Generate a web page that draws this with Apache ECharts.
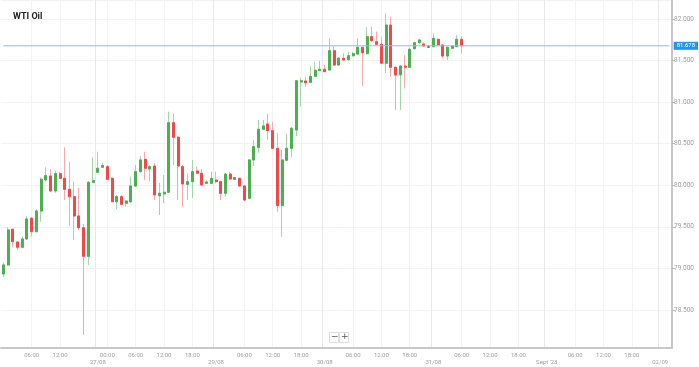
<!DOCTYPE html>
<html lang="en">
<head>
<meta charset="UTF-8">
<title>WTI Oil</title>
<style>
  html, body { margin: 0; padding: 0; background: #fff; }
  #chart { width: 699px; height: 367px; }
</style>
</head>
<body>
<div id="chart"></div>
<script src="https://cdn.jsdelivr.net/npm/echarts@6/dist/echarts.min.js"></script>
<script>
// trading hours shown on the axis: [date, first hour, last hour]
var sessions = [
  ['25/08', 0, 19], ['27/08', 22, 23],
  ['28/08', 0, 20], ['28/08', 22, 23],
  ['29/08', 0, 20], ['29/08', 22, 23],
  ['30/08', 0, 20], ['30/08', 22, 23],
  ['31/08', 0, 23], ['01/09', 0, 23], ['02/09', 0, 2]
];

// hourly candles, from 25/08 00:00 to 31/08 06:00
var openVals = [
  78.933, 79.042, 79.471, 79.318, 79.255, 79.354, 79.603, 79.442, 79.691, 80.064,
  80.112, 79.932, 80.140, 80.084, 79.952, 79.863, 79.631, 79.490, 79.146, 80.036,
  80.157, 80.217, 80.224, 80.084, 79.803, 79.863, 79.784, 79.803, 79.992, 80.164,
  80.313, 80.196, 80.232, 79.875, 79.896, 79.916, 80.753, 80.578, 80.224, 80.012,
  80.044, 80.172, 80.145, 80.024, 80.024, 80.064, 80.044, 79.904, 80.136, 80.072,
  80.084, 79.992, 79.844, 80.305, 80.457, 80.674, 80.738, 80.657, 80.445, 79.755,
  80.301, 80.445, 80.665, 81.243, 81.255, 81.239, 81.311, 81.379, 81.395, 81.387,
  81.619, 81.447, 81.528, 81.511, 81.559, 81.579, 81.660, 81.583, 81.788, 81.727,
  81.696, 81.468, 81.928, 81.420, 81.327, 81.435, 81.420, 81.643, 81.715, 81.700,
  81.664, 81.667, 81.756, 81.688, 81.555, 81.648, 81.667, 81.756
];
var closeVals = [
  79.042, 79.463, 79.322, 79.255, 79.354, 79.595, 79.442, 79.691, 80.072, 80.116,
  79.932, 80.140, 80.084, 79.952, 79.863, 79.631, 79.490, 79.146, 80.036, 80.056,
  80.205, 80.238, 80.072, 79.803, 79.863, 79.772, 79.811, 79.992, 80.164, 80.305,
  80.205, 80.224, 79.884, 79.904, 79.916, 80.753, 80.578, 80.232, 80.016, 80.044,
  80.164, 80.145, 80.004, 80.040, 80.084, 80.044, 79.904, 80.136, 80.076, 80.092,
  79.992, 79.823, 80.305, 80.465, 80.674, 80.714, 80.657, 80.445, 79.755, 80.305,
  80.445, 80.686, 81.258, 81.258, 81.234, 81.311, 81.383, 81.395, 81.367, 81.619,
  81.447, 81.528, 81.507, 81.559, 81.583, 81.660, 81.595, 81.788, 81.740, 81.696,
  81.468, 81.928, 81.420, 81.327, 81.435, 81.420, 81.636, 81.715, 81.748, 81.676,
  81.664, 81.768, 81.688, 81.555, 81.660, 81.676, 81.756, 81.678
];
var lowVals = [
  78.894, 79.030, 79.255, 79.222, 79.246, 79.342, 79.382, 79.433, 79.562, 80.052,
  79.920, 79.911, 80.076, 79.823, 79.511, 79.342, 79.463, 78.200, 79.042, 80.028,
  80.148, 80.208, 80.064, 79.799, 79.712, 79.763, 79.743, 79.787, 79.980, 80.154,
  80.064, 80.052, 79.823, 79.643, 79.784, 79.908, 80.244, 79.823, 79.743, 79.823,
  79.848, 80.136, 79.992, 80.016, 80.016, 80.024, 79.823, 79.863, 80.064, 80.064,
  79.980, 79.811, 79.835, 80.232, 80.392, 80.665, 80.545, 80.437, 79.683, 79.382,
  80.292, 80.344, 80.593, 80.946, 81.186, 81.231, 81.303, 81.375, 81.363, 81.375,
  81.435, 81.435, 81.501, 81.499, 81.547, 81.567, 81.195, 81.573, 81.730, 81.688,
  81.459, 81.351, 81.306, 80.906, 80.906, 81.167, 81.411, 81.634, 81.712, 81.670,
  81.652, 81.664, 81.676, 81.528, 81.507, 81.646, 81.664, 81.588
];
var highVals = [
  79.069, 79.495, 79.478, 79.330, 79.382, 79.631, 79.619, 79.712, 80.096, 80.217,
  80.193, 80.176, 80.164, 80.457, 80.281, 80.044, 79.971, 79.535, 80.052, 80.337,
  80.404, 80.272, 80.244, 80.100, 79.884, 79.884, 79.823, 80.104, 80.244, 80.353,
  80.404, 80.244, 80.268, 80.028, 80.124, 80.886, 80.866, 80.593, 80.244, 80.145,
  80.305, 80.224, 80.193, 80.064, 80.164, 80.164, 80.056, 80.148, 80.164, 80.100,
  80.092, 80.004, 80.317, 80.545, 80.786, 80.786, 80.858, 80.762, 80.626, 80.425,
  80.626, 80.701, 81.267, 81.294, 81.306, 81.427, 81.487, 81.495, 81.447, 81.768,
  81.667, 81.543, 81.588, 81.607, 81.604, 81.768, 81.667, 81.901, 81.908, 81.848,
  81.788, 82.069, 82.028, 81.427, 81.447, 81.568, 81.652, 81.724, 81.760, 81.718,
  81.688, 81.828, 81.766, 81.694, 81.670, 81.682, 81.808, 81.796
];

// axis tick labels
var hourTicks = [
  '25/08 06:00', '25/08 12:00',
  '28/08 00:00', '28/08 06:00', '28/08 12:00', '28/08 18:00',
  '29/08 06:00', '29/08 12:00', '29/08 18:00',
  '30/08 06:00', '30/08 12:00', '30/08 18:00',
  '31/08 06:00', '31/08 12:00', '31/08 18:00',
  '01/09 06:00', '01/09 12:00', '01/09 18:00'
];
var dateTickCats = ['27/08 22:00', '29/08 00:00', '30/08 00:00', '31/08 00:00', '01/09 00:00', '02/09 00:00'];
var dateTickLabels = ['27/08', '29/08', '30/08', '31/08', "Sept '23", '02/09'];

var categories = [];
sessions.forEach(function (s) {
  for (var h = s[1]; h <= s[2]; h++) {
    categories.push(s[0] + ' ' + (h < 10 ? '0' : '') + h + ':00');
  }
});

var upColor = '#4caf50', downColor = '#f44848';
var upWick = '#a3d6a5', downWick = '#f8aaaa';
var priceLineColor = '#7cc4f4';

var wickData = [], bodyData = [];
for (var i = 0; i < openVals.length; i++) {
  wickData.push([openVals[i], closeVals[i], lowVals[i], highVals[i]]);
  bodyData.push([openVals[i], closeVals[i],
    Math.min(openVals[i], closeVals[i]), Math.max(openVals[i], closeVals[i])]);
}
var lastPrice = closeVals[closeVals.length - 1];
// current-price line across the whole axis
var priceLine = [[categories[0], lastPrice], [categories[categories.length - 1], lastPrice]];

function isHour(idx, val) { return hourTicks.indexOf(val) >= 0; }
function isDate(idx, val) { return dateTickCats.indexOf(val) >= 0; }

var chart = echarts.init(document.getElementById('chart'));
chart.setOption({
  animation: false,
  backgroundColor: '#fff',
  title: {
    text: 'WTI Oil', left: 8, top: 7,
    textStyle: { fontSize: 9, fontWeight: 'bold', color: '#222', fontFamily: 'Roboto' }
  },
  grid: { left: 1, right: 27, top: 0, bottom: 19, outerBoundsMode: 'none' },
  xAxis: [{
    type: 'category',
    data: categories,
    boundaryGap: true,
    axisLine: { lineStyle: { color: '#c8c8c8', width: 2 } },
    axisTick: { interval: isHour, alignWithLabel: true, length: 3, lineStyle: { color: '#bbb' } },
    axisLabel: {
      interval: isHour, margin: 4, fontSize: 6, color: '#a0a0a0', fontFamily: 'Roboto',
      formatter: function (v) { return v.slice(6); }
    },
    splitLine: { show: true, interval: isHour, alignWithLabel: true, lineStyle: { color: '#f2f2f2' } }
  }, {
    type: 'category',
    data: categories,
    position: 'bottom',
    boundaryGap: true,
    axisLine: { show: false },
    axisTick: { interval: isDate, length: 8, lineStyle: { color: '#bbb', type: 'dotted' } },
    axisLabel: {
      interval: isDate, margin: 11, fontSize: 6, color: '#a0a0a0', fontFamily: 'Roboto',
      formatter: function (v) { return dateTickLabels[dateTickCats.indexOf(v)]; }
    },
    splitLine: { show: true, interval: isDate, lineStyle: { color: '#e8e8e8' } }
  }],
  yAxis: {
    type: 'value',
    position: 'right',
    min: 78.043,
    max: 82.229,
    minInterval: 0.5,
    maxInterval: 0.5,
    axisLine: { show: true, lineStyle: { color: '#c8c8c8', width: 2 } },
    axisTick: { show: true, length: 3, lineStyle: { color: '#bbb' } },
    axisLabel: {
      margin: 2, fontSize: 6.5, color: '#a0a0a0', fontFamily: 'Roboto',
      showMinLabel: false, showMaxLabel: false,
      formatter: function (v) { return v.toFixed(3); }
    },
    splitLine: { show: true, lineStyle: { color: '#f2f2f2' } }
  },
  series: [{
    name: 'price',
    type: 'line',
    xAxisIndex: 0,
    data: priceLine,
    symbol: 'none',
    silent: true,
    color: priceLineColor,
    lineStyle: { color: priceLineColor, width: 1 },
    endLabel: {
      show: true, distance: 4,
      formatter: function () { return lastPrice.toFixed(3); },
      backgroundColor: '#2196f3', color: '#fff',
      fontSize: 6, fontFamily: 'Roboto', padding: [1, 3]
    }
  }, {
    name: 'wick',
    type: 'candlestick',
    xAxisIndex: 0,
    barWidth: 2.5,
    data: wickData,
    itemStyle: {
      color: 'transparent', color0: 'transparent',
      borderColor: upWick, borderColor0: downWick, borderColorDoji: '#777',
      borderWidth: 1
    }
  }, {
    name: 'WTI Oil',
    type: 'candlestick',
    xAxisIndex: 0,
    barWidth: 2.5,
    data: bodyData,
    itemStyle: {
      color: upColor, color0: downColor,
      borderColor: upColor, borderColor0: downColor, borderColorDoji: '#666',
      borderWidth: 1
    }
  }],
  graphic: [
    { type: 'rect', left: 329, top: 332, shape: { width: 9, height: 10 }, style: { fill: '#fff', stroke: '#ddd' } },
    { type: 'rect', left: 339, top: 332, shape: { width: 9, height: 10 }, style: { fill: '#fff', stroke: '#ddd' } },
    { type: 'text', left: 331, top: 332, style: { text: '\u2212', fontSize: 9, fill: '#555', fontFamily: 'DejaVu Sans' } },
    { type: 'text', left: 341, top: 332, style: { text: '+', fontSize: 9, fill: '#555', fontFamily: 'DejaVu Sans' } }
  ]
});
</script>
</body>
</html>
